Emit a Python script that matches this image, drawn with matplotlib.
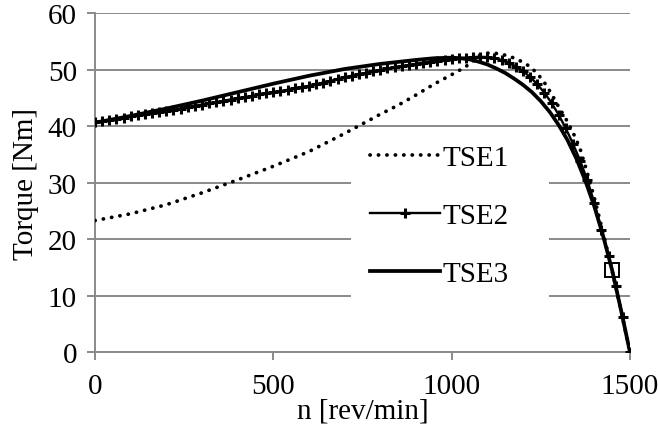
import matplotlib
matplotlib.use("Agg")
import matplotlib.pyplot as plt
from matplotlib.patches import Rectangle

# ---------------- data ----------------
tse1_n = [0, 100, 200, 300, 400, 500, 600, 700, 800, 850, 900, 950, 1000, 1040, 1060, 1080,
          1100, 1120, 1140, 1160, 1180, 1200, 1220, 1240, 1260, 1280, 1300, 1320, 1340,
          1360, 1380, 1400, 1420, 1440, 1460, 1480, 1500]
tse1_t = [23.3, 24.5, 26.1, 28.2, 30.5, 32.9, 35.5, 38.7, 42.1, 43.7, 45.5, 47.4, 49.1, 50.5, 51.8, 52.6,
          52.9, 52.9, 52.7, 52.4, 51.9, 51.3, 50.5, 49.3, 47.7, 45.7, 43.4, 41.3, 38.9,
          36.0, 31.8, 27.3, 22.3, 17.1, 11.6, 5.9, 0.0]

tse2_n = list(range(0, 1501, 20))
tse2_t = [40.7, 40.9, 41.1, 41.3, 41.5, 41.7, 41.9, 42.1, 42.3, 42.5,
          42.7, 42.9, 43.1, 43.4, 43.6, 43.8, 44.0, 44.2, 44.5, 44.7,
          44.9, 45.1, 45.3, 45.6, 45.8, 46.0, 46.2, 46.4, 46.7, 46.9,
          47.1, 47.4, 47.7, 48.0, 48.3, 48.6, 48.9, 49.2, 49.4, 49.7,
          49.9, 50.2, 50.4, 50.6, 50.8, 51.0, 51.2, 51.4, 51.6, 51.75,
          51.9, 52.0, 52.1, 52.2, 52.25, 52.2, 52.0, 51.7, 51.2, 50.5,
          49.7, 48.7, 47.4, 45.9, 44.1, 42.0, 39.6, 36.9, 33.9, 30.5,
          26.4, 21.7, 17.0, 11.8, 6.2, 0.0]

tse3_n = [0, 100, 200, 300, 400, 500, 600, 700, 800, 900, 950, 1000, 1025, 1050, 1075, 1100,
          1125, 1150, 1175, 1200, 1225, 1250, 1275, 1300, 1325, 1350, 1375, 1400, 1425,
          1450, 1475, 1500]
tse3_t = [40.6, 41.8, 43.1, 44.5, 46.0, 47.5, 48.9, 50.1, 51.0, 51.7, 52.0, 52.1, 52.0, 51.8, 51.4, 50.9,
          50.2, 49.4, 48.4, 47.3, 46.0, 44.4, 42.5, 40.2, 37.5, 34.2, 30.3, 25.8, 20.5,
          14.5, 7.4, 0.0]

rated_n = [1450]
rated_t = [14.5]

labels = ["TSE1", "TSE2", "TSE3"]
x_ticks = [0, 500, 1000, 1500]
y_ticks = [0, 10, 20, 30, 40, 50, 60]

# ---------------- figure ----------------
plt.rcParams['font.family'] = ['Liberation Serif', 'DejaVu Serif']
FS = 21
W, H = 658, 427
fig = plt.figure(figsize=(W / 100, H / 100), dpi=100)
ax = fig.add_axes([95 / W, (H - 353.3) / H, 535 / W, 339.3 / H])

grey = '#8a8a8a'
ax.set_xlim(0, 1500)
ax.set_ylim(0, 60)
ax.set_xticks(x_ticks)
ax.set_yticks(y_ticks)
ax.yaxis.grid(True, color=grey, linewidth=1.4)
ax.set_axisbelow(True)
for s in ['top', 'right']:
    ax.spines[s].set_visible(False)
for s in ['left', 'bottom']:
    ax.spines[s].set_color(grey)
    ax.spines[s].set_linewidth(1.4)
ax.tick_params(axis='both', direction='out', length=6, width=1.4, color=grey,
               labelsize=FS, pad=7)
ax.tick_params(axis='x', pad=9)

# white legend background box (covers gridlines)
ax.add_patch(Rectangle((718, 4.0), 555, 33.7, facecolor='white', edgecolor='none', zorder=1))

ax.plot(tse1_n, tse1_t, color='black', linewidth=2.7, linestyle=(0, (0.05, 2.2)),
        dash_capstyle='round', label=labels[0], zorder=3)
ax.plot(tse2_n, tse2_t, color='black', linewidth=1.7, marker='+', markersize=7,
        markeredgewidth=2.2, label=labels[1], zorder=4)
ax.plot(tse3_n, tse3_t, color='black', linewidth=2.7, label=labels[2], zorder=5)
ax.plot(rated_n, rated_t, linestyle='none', marker='s', markersize=9.5,
        markerfacecolor='none', markeredgecolor='black', markeredgewidth=1.4, zorder=6)

ax.set_xlabel('n [rev/min]', fontsize=FS, labelpad=-1)
ax.set_ylabel('Torque [Nm]', fontsize=FS, labelpad=6)

leg = ax.legend(loc='upper left', bbox_to_anchor=(0.514, 0.612), frameon=False,
                fontsize=FS, handlelength=2.4, handletextpad=0.1,
                labelspacing=1.08, borderpad=0, borderaxespad=0)

fig.savefig('out.png', dpi=100)
